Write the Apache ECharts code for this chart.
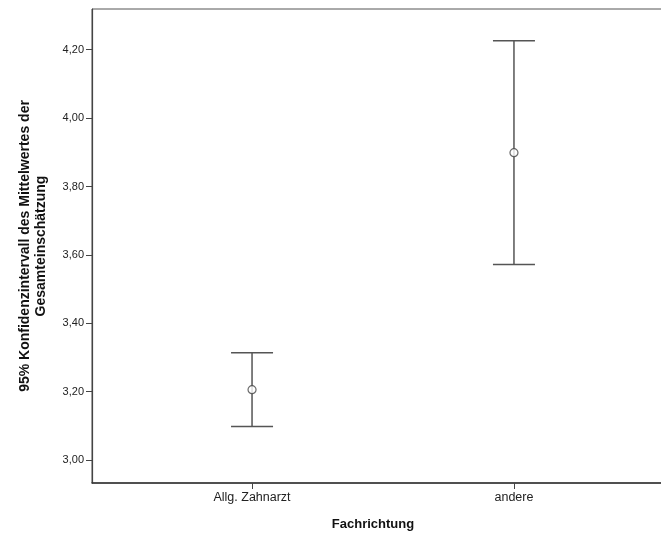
<!DOCTYPE html>
<html>
<head>
<meta charset="utf-8">
<script src="https://cdn.jsdelivr.net/npm/echarts@6/dist/echarts.min.js"></script>
<style>
  html, body { margin: 0; padding: 0; background: #fff; }
  #chart { width: 661px; height: 536px; }
</style>
</head>
<body>
<div id="chart"></div>
<script>
// Groups and their 95% confidence intervals of the mean
const categories = ['Allg. Zahnarzt', 'andere'];
const means = [3.206, 3.899];
const lowerBounds = [3.098, 3.572];
const upperBounds = [3.314, 4.226];
const yTicks = [3.0, 3.2, 3.4, 3.6, 3.8, 4.0, 4.2];

const positions = categories.map((c, i) => i + 1);
const intervalData = positions.map((p, i) => [p, lowerBounds[i], upperBounds[i]]);
const meanData = positions.map((p, i) => [p, means[i]]);

const FONT = '"Liberation Sans", Arial, sans-serif';
const chart = echarts.init(document.getElementById('chart'));

chart.setOption({
  animation: false,
  backgroundColor: '#fff',
  grid: {
    left: 92, top: 9, width: 582, height: 474,
    outerBoundsMode: 'none',
    containLabel: false,
    show: true, borderColor: '#555', borderWidth: 1, backgroundColor: 'transparent'
  },
  xAxis: {
    type: 'value',
    min: 0.389, max: 2.611,
    splitLine: { show: false },
    axisLine: { show: true, onZero: false, lineStyle: { color: '#333', width: 1.5 } },
    axisTick: { show: true, length: 6, inside: false, customValues: positions, lineStyle: { color: '#444' } },
    axisLabel: {
      customValues: positions,
      formatter: v => categories[Math.round(v) - 1] || '',
      color: '#222', fontFamily: FONT, fontSize: 12.5, margin: 8
    }
  },
  yAxis: {
    type: 'value',
    min: 2.933, max: 4.319,
    splitLine: { show: false },
    axisLine: { show: true, onZero: false, lineStyle: { color: '#444', width: 1.2 } },
    axisTick: { show: true, length: 6, customValues: yTicks, lineStyle: { color: '#444' } },
    axisLabel: {
      customValues: yTicks,
      formatter: v => v.toFixed(2).replace('.', ','),
      color: '#222', fontFamily: FONT, fontSize: 11, margin: 8
    }
  },
  series: [
    {
      type: 'custom',
      data: intervalData,
      renderItem: function (params, api) {
        const x = api.value(0);
        const lo = api.coord([x, api.value(1)]);
        const hi = api.coord([x, api.value(2)]);
        const half = 21;
        const style = { stroke: '#555', lineWidth: 1.5 };
        return {
          type: 'group',
          children: [
            { type: 'line', shape: { x1: lo[0], y1: lo[1], x2: hi[0], y2: hi[1] }, style: style },
            { type: 'line', shape: { x1: hi[0] - half, y1: hi[1], x2: hi[0] + half, y2: hi[1] }, style: style },
            { type: 'line', shape: { x1: lo[0] - half, y1: lo[1], x2: lo[0] + half, y2: lo[1] }, style: style }
          ]
        };
      },
      z: 2
    },
    {
      type: 'scatter',
      data: meanData,
      symbol: 'circle',
      symbolSize: 8,
      itemStyle: { color: '#fff', borderColor: '#444', borderWidth: 1.2 },
      z: 3
    }
  ],
  graphic: [
    {
      type: 'text',
      x: 33,
      y: 246,
      rotation: Math.PI / 2,
      style: {
        text: '95% Konfidenzintervall des Mittelwertes der\nGesamteinschätzung',
        font: 'bold 14px ' + FONT,
        fill: '#111',
        align: 'center',
        verticalAlign: 'middle',
        lineHeight: 16
      }
    },
    {
      type: 'text',
      x: 373,
      y: 524,
      style: {
        text: 'Fachrichtung',
        font: 'bold 13px ' + FONT,
        fill: '#111',
        align: 'center',
        verticalAlign: 'middle'
      }
    }
  ]
});
</script>
</body>
</html>
